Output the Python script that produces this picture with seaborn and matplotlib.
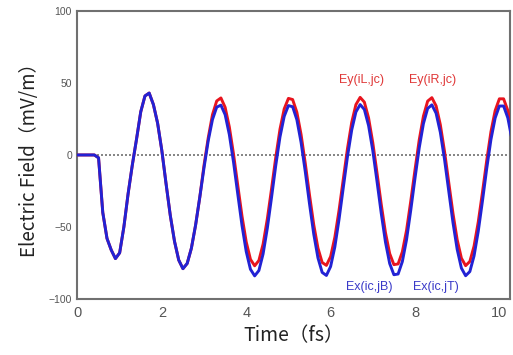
import matplotlib

matplotlib.use("Agg")
import matplotlib.pyplot as plt
import numpy as np
import pandas as pd
import seaborn as sns

# time axis (fs), sampled every 0.1 fs
time_fs = [round(0.1 * i, 1) for i in range(104)]

# Ey at (iL,jc) / (iR,jc): the two curves overlap, read as one trace (mV/m)
ey_jc = [
    0, 0, 0, 0, 0, -2, -40, -58, -66, -72,
    -68, -50, -27, -7, 11, 30, 41, 43, 35, 22,
    3, -20, -42, -60, -73, -79, -75.4, -64.8, -48.7, -29.2,
    -7, 12, 28, 37.5, 39.6, 33.1, 19.4, 0.4, -21.2, -42.5,
    -60.4, -72.5, -77.0, -73.3, -61.9, -44.4, -23.5, -1.6, 17.9, 32.0,
    39.3, 38.5, 29.7, 14.2, -5.9, -27.8, -48.4, -64.7, -74.7, -76.7,
    -70.6, -57.2, -38.4, -16.9, 4.5, 22.6, 35.0, 40.0, 36.7, 25.7,
    8.5, -12.5, -34.3, -53.9, -68.5, -76.2, -75.7, -67.3, -52.3, -32.0,
    -10.3, 10.4, 27.0, 37.4, 39.8, 34.1, 21.1, 2.5, -19.1, -40.5,
    -58.9, -71.7, -76.9, -74.0, -63.3, -46.4, -25.7, -3.8, 16.1, 30.8,
    39.0, 39.0, 30.9, 16.0,
]

# Ex at (ic,jB) / (ic,jT): the two curves overlap, read as one trace (mV/m)
ex_ic = [
    0, 0, 0, 0, 0, -2, -40, -58, -66, -72,
    -68, -50, -27, -7, 11, 30, 41, 43, 35, 22,
    3, -20, -42, -60, -73, -79, -75.4, -64.8, -48.7, -29.2,
    -8.8, 10.0, 24.6, 33.2, 34.6, 28.0, 14.1, -5.2, -27.3, -49.0,
    -67.1, -79.4, -84.0, -80.3, -68.7, -50.9, -29.5, -7.3, 12.5, 26.8,
    34.3, 33.5, 24.5, 8.7, -11.7, -34.0, -54.9, -71.5, -81.6, -83.7,
    -77.5, -63.9, -44.7, -22.8, -1.1, 17.3, 29.9, 35.0, 31.6, 20.4,
    3.0, -18.4, -40.5, -60.5, -75.4, -83.2, -82.7, -74.1, -58.8, -38.3,
    -16.2, 4.9, 21.8, 32.3, 34.8, 29.0, 15.8, -3.1, -25.1, -46.9,
    -65.6, -78.6, -83.9, -81.0, -70.1, -52.9, -31.8, -9.5, 10.7, 25.7,
    34.0, 34.0, 25.8, 10.6,
]

x_ticks = [0, 2, 4, 6, 8, 10]
y_ticks = [-100, -50, 0, 50, 100]

ey_labels = ["Ey(iL,jc)", "Ey(iR,jc)"]
ey_label_pos = [(6.73, 52), (8.42, 52)]
ex_labels = ["Ex(ic,jB)", "Ex(ic,jT)"]
ex_label_pos = [(6.92, -92), (8.5, -92)]

RED = "#e8141e"
BLUE = "#2222d4"
GREY = "#707070"

df = pd.concat([
    pd.DataFrame({"time": time_fs, "field": ey_jc, "comp": "Ey"}),
    pd.DataFrame({"time": time_fs, "field": ex_ic, "comp": "Ex"}),
])

sns.set_style("white")
plt.rcParams["font.family"] = ["Liberation Sans", "DejaVu Sans"]

fig = plt.figure(figsize=(5.13, 3.55), dpi=100)
ax = fig.add_axes([0.151, 0.158, 0.843, 0.811])

ax.axhline(0, color=GREY, lw=1.2, ls=(0, (1.2, 1.2)), zorder=1)
sns.lineplot(data=df, x="time", y="field", hue="comp", hue_order=["Ey", "Ex"],
             palette={"Ey": RED, "Ex": BLUE}, linewidth=2.1, legend=False,
             ax=ax, zorder=3)

for txt, (x, y) in zip(ey_labels, ey_label_pos):
    ax.text(x, y, txt, color="#e03838", fontsize=9, ha="center", va="center")
for txt, (x, y) in zip(ex_labels, ex_label_pos):
    ax.text(x, y, txt, color="#3a3ac8", fontsize=9, ha="center", va="center")

ax.set_xlim(0, 10.25)
ax.set_ylim(-100, 100)
ax.set_xticks(x_ticks)
ax.set_yticks(y_ticks)
ax.tick_params(axis="x", direction="in", length=7, width=1.2, color=GREY,
               labelsize=10.5, labelcolor="#555555", pad=5)
ax.tick_params(axis="y", direction="in", length=7, width=1.2, color=GREY,
               labelsize=7.5, labelcolor="#555555", pad=4)
for s in ax.spines.values():
    s.set_color(GREY)
    s.set_linewidth(1.5)

cjk = ["Noto Sans CJK JP", "DejaVu Sans"]
ax.set_xlabel("Time（fs）", fontsize=14, family=cjk, color="#222222", labelpad=4)
ax.set_ylabel("Electric Field（mV/m）", fontsize=13.5, family=cjk,
              color="#222222", labelpad=6)

fig.savefig("out.png", dpi=100)
